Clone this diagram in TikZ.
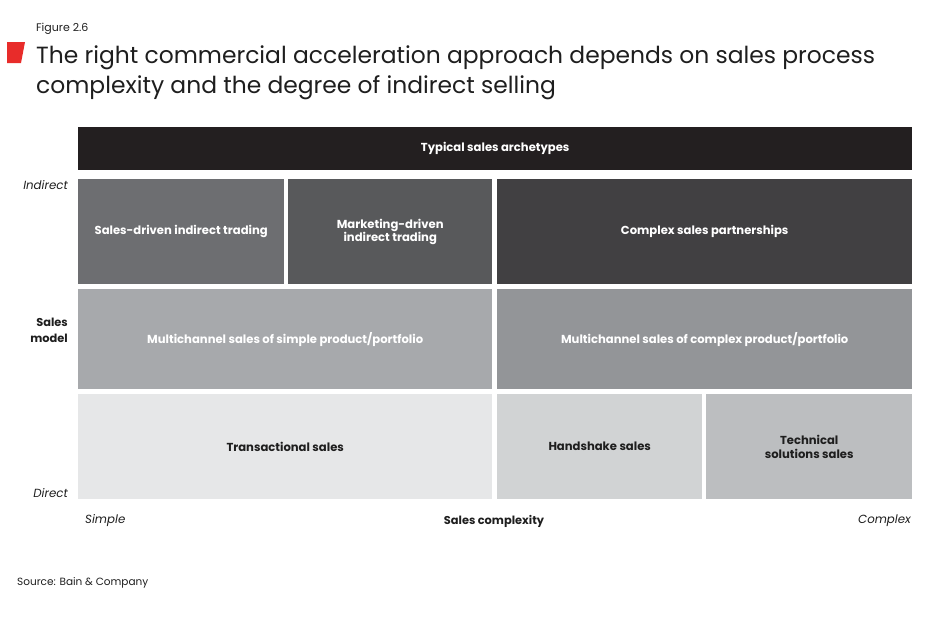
\documentclass[tikz,border=0pt]{standalone}
\usepackage{fontspec}
\setmainfont{Poppins}
\usetikzlibrary{positioning}
\definecolor{bainred}{RGB}{232,44,42}
\definecolor{headblack}{RGB}{35,31,32}
\definecolor{inkblack}{RGB}{30,30,30}
\definecolor{tileA}{RGB}{109,110,113}
\definecolor{tileB}{RGB}{88,89,91}
\definecolor{tileC}{RGB}{65,64,66}
\definecolor{tileD}{RGB}{167,169,172}
\definecolor{tileE}{RGB}{147,149,152}
\definecolor{tileF}{RGB}{230,231,232}
\definecolor{tileG}{RGB}{209,211,212}
\definecolor{tileH}{RGB}{188,190,192}

\tikzset{
  tile/.style={rectangle, inner sep=0pt, anchor=north west, align=center,
    font=\fontsize{11.6}{13.5}\selectfont\bfseries, text=white},
  darktile/.style={tile, text=inkblack},
  axislabel/.style={inner sep=0pt, text=inkblack, font=\fontsize{11.8}{14}\selectfont\itshape},
  axistitle/.style={inner sep=0pt, text=inkblack, align=right, font=\fontsize{11.4}{16}\selectfont\bfseries}
}

\begin{document}
\begin{tikzpicture}[x=1pt,y=-1pt]
  \useasboundingbox (0,0) rectangle (950,616);

  % Heading
  \node[anchor=base west, inner sep=0pt, text=inkblack, font=\fontsize{11}{12}\selectfont] (fig) at (36,31) {Figure 2.6};
  \fill[bainred] (7,42) -- (25,42) -- (21,63) -- (7,63) -- cycle;
  \node[anchor=base west, inner sep=0pt, text=inkblack, align=left, font=\fontsize{23.4}{30}\selectfont] (title) at (36,93)
    {The right commercial acceleration approach depends on sales process\\complexity and the degree of indirect selling};

  % Archetype header
  \node[tile, fill=headblack, minimum width=834pt, minimum height=43pt] (head) at (78,127) {Typical sales archetypes};

  % Indirect row
  \node[tile, fill=tileA, minimum width=206pt, minimum height=105pt] (sdit) at (78,179) {Sales-driven indirect trading};
  \node[tile, fill=tileB, minimum width=204pt, minimum height=105pt] (mdit) at (288,179) {Marketing-driven\\indirect trading};
  \node[tile, fill=tileC, minimum width=415pt, minimum height=105pt] (csp) at (497,179) {Complex sales partnerships};

  % Multichannel row
  \node[tile, fill=tileD, minimum width=414pt, minimum height=100pt] (mcsimple) at (78,289) {Multichannel sales of simple product/portfolio};
  \node[tile, fill=tileE, minimum width=415pt, minimum height=100pt] (mccomplex) at (497,289) {Multichannel sales of complex product/portfolio};

  % Direct row
  \node[darktile, fill=tileF, minimum width=414pt, minimum height=105pt] (trans) at (78,394) {Transactional sales};
  \node[darktile, fill=tileG, minimum width=205pt, minimum height=105pt] (hand) at (497,394) {Handshake sales};
  \node[darktile, fill=tileH, minimum width=206pt, minimum height=105pt] (tech) at (706,394) {Technical\\solutions sales};

  % Axis labels
  \node[axislabel, anchor=east] (indirect) at (68,185) {Indirect};
  \node[axistitle, anchor=east] (salesmodel) at (68,330) {Sales\\model};
  \node[axislabel, anchor=east] (direct) at (68,493) {Direct};
  \node[axislabel, anchor=west] (simple) at (85,521) {Simple};
  \node[axistitle, anchor=center] (complexity) at (494,521) {Sales complexity};
  \node[axislabel, anchor=east] (complex) at (911,521) {Complex};

  % Source
  \node[anchor=base west, inner sep=0pt, text=inkblack, font=\fontsize{10.5}{12}\selectfont] (source) at (17,585) {Source: Bain \& Company};
\end{tikzpicture}
\end{document}
